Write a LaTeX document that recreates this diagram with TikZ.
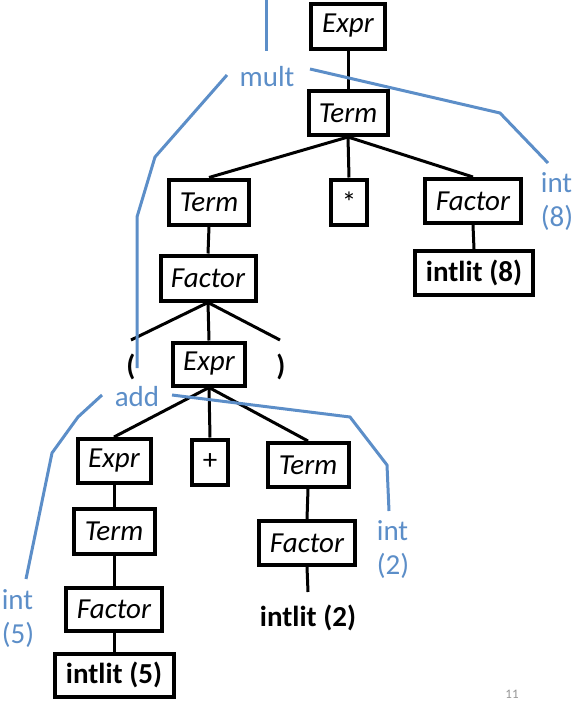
\documentclass[tikz,border=0pt]{standalone}
\usepackage{fontspec}
\setmainfont{Carlito}
\definecolor{ablue}{RGB}{92,142,200}
\definecolor{pgnum}{RGB}{150,150,150}
\begin{document}
\begin{tikzpicture}[x=1pt,y=-1pt,
  font=\fontsize{29}{34}\selectfont,
  bx/.style={draw=black,line width=4pt,inner sep=0pt,align=center},
  nt/.style={bx,font=\fontsize{29}{34}\selectfont\itshape},
  lit/.style={bx,font=\fontsize{29}{34}\selectfont\bfseries},
  edge/.style={draw=black,line width=3pt},
  ann/.style={draw=ablue,line width=3pt},
  atext/.style={text=ablue,inner sep=0pt,align=left,font=\fontsize{29}{34}\selectfont}]
\useasboundingbox (0,0) rectangle (577,702);
% nodes
\node[nt,minimum width=74pt,minimum height=45pt] (e1) at (348,26) {Expr};
\node[nt,minimum width=79pt,minimum height=44pt] (t1) at (348,113) {Term};
\node[nt,minimum width=80pt,minimum height=45pt] (t2) at (209,202) {Term};
\node[bx,minimum width=36pt,minimum height=45pt] (star) at (349,202) {*};
\node[nt,minimum width=96pt,minimum height=44pt] (f1) at (473,201) {Factor};
\node[lit,minimum width=118pt,minimum height=44pt] (i8) at (474,273) {intlit (8)};
\node[nt,minimum width=95pt,minimum height=45pt] (f2) at (208,278) {Factor};
\node[nt,minimum width=72pt,minimum height=43pt] (e2) at (209,364) {Expr};
\node[font=\fontsize{29}{34}\selectfont\bfseries,inner sep=0pt] (lp) at (131,367) {(};
\node[font=\fontsize{29}{34}\selectfont\bfseries,inner sep=0pt] (rp) at (281,367) {)};
\coordinate (lpt) at (131,340);
\coordinate (rpt) at (280,340);
\node[nt,minimum width=73pt,minimum height=44pt] (e3) at (114,461) {Expr};
\node[bx,minimum width=36pt,minimum height=45pt] (plus) at (210,462) {+};
\node[nt,minimum width=81pt,minimum height=44pt] (t3) at (308,465) {Term};
\node[nt,minimum width=81pt,minimum height=45pt] (t4) at (114,531) {Term};
\node[nt,minimum width=96pt,minimum height=44pt] (f3) at (307,543) {Factor};
\node[font=\fontsize{29}{34}\selectfont\bfseries,inner sep=0pt] (i2) at (308,618) {intlit (2)};
\coordinate (i2t) at (308,592);
\node[nt,minimum width=96pt,minimum height=43pt] (f4) at (114,609) {Factor};
\node[lit,minimum width=119pt,minimum height=43pt] (i5) at (114,675) {intlit (5)};
% edges
\draw[edge] (e1.south) -- (t1.north);
\draw[edge] (t1.south) -- (t2.north);
\draw[edge] (t1.south) -- (star.north);
\draw[edge] (t1.south) -- (f1.north);
\draw[edge] (f1.south) -- (i8.north);
\draw[edge] (t2.south) -- (f2.north);
\draw[edge] (f2.south) -- (lpt);
\draw[edge] (f2.south) -- (e2.north);
\draw[edge] (f2.south) -- (rpt);
\draw[edge] (e2.south) -- (e3.north);
\draw[edge] (e2.south) -- (plus.north);
\draw[edge] (e2.south) -- (t3.north);
\draw[edge] (e3.south) -- (t4.north);
\draw[edge] (t4.south) -- (f4.north);
\draw[edge] (f4.south) -- (i5.north);
\draw[edge] (t3.south) -- (f3.north);
\draw[edge] (f3.south) -- (i2t);
% annotations
\node[atext] (mult) at (267,77) {mult};
\node[atext] (add) at (137,397) {add};
\node[atext] (int8) at (557,202) {int\\(8)};
\node[atext] (int2) at (393,550) {int\\(2)};
\node[atext] (int5) at (18,619) {int\\(5)};
\coordinate (m0) at (266,0);
\coordinate (m1) at (266,51);
\draw[ann] (m0) -- (m1);
\coordinate (mr) at (310,69);
\coordinate (mr1) at (500,113);
\coordinate (mr2) at (548,163);
\draw[ann] (mr) -- (mr1) -- (mr2);
\coordinate (ml) at (227,75);
\coordinate (ml1) at (155,157);
\coordinate (ml2) at (137,217);
\coordinate (ml3) at (137,368);
\draw[ann] (ml) -- (ml1) -- (ml2) -- (ml3);
\coordinate (ar) at (172,395);
\coordinate (ar1) at (350,417);
\coordinate (ar2) at (387,465);
\coordinate (ar3) at (389,511);
\draw[ann] (ar) -- (ar1) -- (ar2) -- (ar3);
\coordinate (al) at (102,395);
\coordinate (al1) at (78,417);
\coordinate (al2) at (52,453);
\coordinate (al3) at (26,579);
\draw[ann] (al) -- (al1) -- (al2) -- (al3);
% page number
\node[text=pgnum,font=\fontsize{13}{15}\selectfont,inner sep=0pt] (pg) at (512,694) {11};
\end{tikzpicture}
\end{document}
